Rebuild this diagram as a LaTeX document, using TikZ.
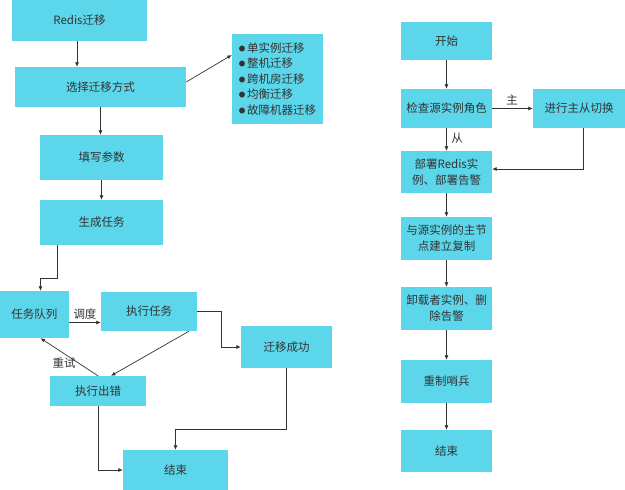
\documentclass[tikz,border=0pt]{standalone}
\usepackage{fontspec}
\setmainfont{Noto Sans CJK SC}
\usepackage{xcolor}
\usepackage{tikz}
\usetikzlibrary{positioning, arrows.meta}
\definecolor{boxcyan}{RGB}{92,214,234}
\definecolor{ink}{RGB}{51,51,51}
\newcommand{\dotitem}{\raisebox{1.3pt}{\fontsize{6.5}{6.5}\selectfont ●}\,}

\begin{document}
\begin{tikzpicture}[
  x=1pt, y=1pt,
  font=\fontsize{11.5}{16}\selectfont,
  every node/.style={align=center, text=ink},
  box/.style={fill=boxcyan, inner sep=2pt},
  lbl/.style={inner sep=1pt},
  arrow/.style={-{Latex[length=4.5pt, width=4pt]}, draw=ink, line width=0.7pt}
]
\useasboundingbox (0,0) rectangle (625,490);

\node[box, minimum width=135pt, minimum height=41pt] (redis)  at (79.5,469.5) {Redis迁移};
\node[box, minimum width=171pt, minimum height=40pt] (choose) at (100.5,403) {选择迁移方式};
\node[box, minimum width=91pt, minimum height=90pt, align=left,
      font=\fontsize{11.5}{15.5}\selectfont] (modes) at (277.5,411)
  {\dotitem 单实例迁移\\\dotitem 整机迁移\\\dotitem 跨机房迁移\\\dotitem 均衡迁移\\\dotitem 故障机器迁移};
\node[box, minimum width=123pt, minimum height=45pt] (params) at (101.5,332.5) {填写参数};
\node[box, minimum width=123pt, minimum height=45pt] (gen)    at (101.5,267.5) {生成任务};
\node[box, minimum width=69pt, minimum height=47pt]  (queue)  at (34.5,175.5) {任务队列};
\node[box, minimum width=96pt, minimum height=39pt]  (run)    at (149,178.5) {执行任务};
\node[box, minimum width=91pt, minimum height=42pt]  (done)   at (286.5,143) {迁移成功};
\node[box, minimum width=96pt, minimum height=30pt]  (fail)   at (98,99) {执行出错};
\node[box, minimum width=105pt, minimum height=40pt] (finA)   at (175.5,20) {结束};
\node[lbl] (sched) at (85,176) {调度};
\node[lbl] (retry) at (64,127) {重试};

\node[box, minimum width=91pt, minimum height=38pt] (start)    at (446.5,449) {开始};
\node[box, minimum width=91pt, minimum height=39pt] (check)    at (446.5,381.5) {检查源实例角色};
\node[box, minimum width=92pt, minimum height=39pt] (switch)   at (579,381.5) {进行主从切换};
\node[box, minimum width=91pt, minimum height=42pt] (deploy)   at (446.5,318) {部署Redis实\\例、部署告警};
\node[box, minimum width=91pt, minimum height=43pt] (repl)     at (446.5,251.5) {与源实例的主节\\点建立复制};
\node[box, minimum width=91pt, minimum height=43pt] (unload)   at (446.5,181.5) {卸载者实例、删\\除告警};
\node[box, minimum width=91pt, minimum height=43pt] (sentinel) at (446.5,108.5) {重制哨兵};
\node[box, minimum width=91pt, minimum height=42pt] (finB)     at (446.5,39) {结束};
\node[lbl] (master) at (512,390) {主};
\node[lbl] (slave)  at (457,352) {从};

\draw[arrow] ([xshift=-2.5pt]redis.south) -- ([xshift=-2.5pt]redis.south |- choose.north);
\draw[arrow] (choose.south) -- (choose.south |- params.north);
\draw[arrow] ([yshift=5pt]choose.east) -- ([yshift=24pt]modes.west);
\draw[arrow] (params) -- (gen);
\draw[arrow] ([xshift=-44pt]gen.south) -- ++(0,-33.5) -| ([xshift=6pt]queue.north);
\draw[arrow] ([yshift=-8pt]queue.east) -- ([yshift=-8pt]queue.east -| run.west);
\draw[arrow] (run.east) -- ++(24,0) |- (done.west);
\draw[arrow] ([xshift=40pt]run.south) -- ([xshift=13pt]fail.north);
\draw[arrow] (fail.north) -- ([xshift=6pt]queue.south);
\draw[arrow] (fail.south) |- (finA.west);
\draw[arrow] (done.south) -- ++(0,-61) -| (finA.north);

\draw[arrow] (start) -- (check);
\draw[arrow] (check) -- (switch);
\draw[arrow] (check) -- (deploy);
\draw[arrow] ([xshift=4pt]switch.south) |- ([yshift=3pt]deploy.east);
\draw[arrow] (deploy) -- (repl);
\draw[arrow] (repl) -- (unload);
\draw[arrow] (unload) -- (sentinel);
\draw[arrow] (sentinel) -- (finB);

\end{tikzpicture}
\end{document}
